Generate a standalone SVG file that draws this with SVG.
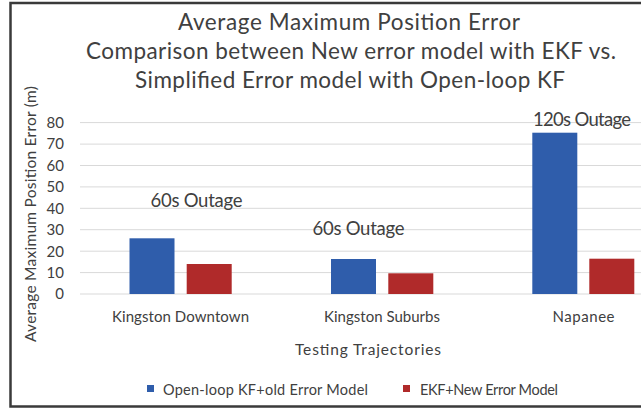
<svg xmlns="http://www.w3.org/2000/svg" width="641" height="408" viewBox="0 0 641 408">
  <style>
    text { font-family: Lato, "Open Sans", "Liberation Sans", sans-serif; fill: #404040; }
    .title { font-size: 22.5px; text-anchor: middle; }
    .tick { font-size: 15px; text-anchor: end; }
    .cat { font-size: 15px; text-anchor: middle; }
    .axis { font-size: 15.5px; text-anchor: middle; }
    .note { font-size: 18.5px; text-anchor: middle; }
    .legend { font-size: 14.5px; }
    .grid { stroke: #d9d9d9; stroke-width: 1; }
    .blue { fill: #2f5dab; }
    .red { fill: #b02a2a; }
  </style>

  <!-- chart frame -->
  <rect x="0" y="0" width="641" height="408" fill="#ffffff"/>
  <path d="M641 3 H10.5 V406.5 H641" fill="none" stroke="#3a3a3a" stroke-width="2.5"/>

  <!-- title -->
  <g id="title">
    <text class="title" x="349" y="30" textLength="342">Average Maximum Position Error</text>
    <text class="title" x="351" y="59" textLength="530">Comparison between New error model with EKF vs.</text>
    <text class="title" x="350" y="88" textLength="430">Simplified Error model with Open-loop KF</text>
  </g>

  <!-- value axis: gridlines and labels -->
  <g id="value-axis">
    <g class="grid">
      <line x1="80" y1="294" x2="641" y2="294"/>
      <line x1="80" y1="272.6" x2="641" y2="272.6"/>
      <line x1="80" y1="251.2" x2="641" y2="251.2"/>
      <line x1="80" y1="229.7" x2="641" y2="229.7"/>
      <line x1="80" y1="208.3" x2="641" y2="208.3"/>
      <line x1="80" y1="186.9" x2="641" y2="186.9"/>
      <line x1="80" y1="165.5" x2="641" y2="165.5"/>
      <line x1="80" y1="144.1" x2="641" y2="144.1"/>
      <line x1="80" y1="122.6" x2="641" y2="122.6"/>
    </g>
    <text class="tick" x="64" y="299.3">0</text>
    <text class="tick" x="64" y="277.9">10</text>
    <text class="tick" x="64" y="256.5">20</text>
    <text class="tick" x="64" y="235">30</text>
    <text class="tick" x="64" y="213.6">40</text>
    <text class="tick" x="64" y="192.2">50</text>
    <text class="tick" x="64" y="170.8">60</text>
    <text class="tick" x="64" y="149.4">70</text>
    <text class="tick" x="64" y="127.9">80</text>
    <text class="axis" transform="translate(35.5 214) rotate(-90)" textLength="256">Average Maximum Position Error (m)</text>
  </g>

  <!-- Kingston Downtown -->
  <g id="kingston-downtown">
    <rect class="blue" x="129.5" y="238.3" width="45" height="55.7"/>
    <rect class="red" x="186.7" y="264" width="45" height="30"/>
    <text class="note" x="196.5" y="207" textLength="92">60s Outage</text>
    <text class="cat" x="180.5" y="322" textLength="137">Kingston Downtown</text>
  </g>

  <!-- Kingston Suburbs -->
  <g id="kingston-suburbs">
    <rect class="blue" x="331" y="259" width="45" height="35"/>
    <rect class="red" x="388.3" y="273.3" width="45" height="20.7"/>
    <text class="note" x="358.5" y="235" textLength="92">60s Outage</text>
    <text class="cat" x="382" y="322" textLength="116">Kingston Suburbs</text>
  </g>

  <!-- Napanee -->
  <g id="napanee">
    <rect class="blue" x="532.3" y="132.7" width="45" height="161.3"/>
    <rect class="red" x="589.3" y="258.7" width="45" height="35.3"/>
    <text class="note" x="582" y="126" textLength="98">120s Outage</text>
    <text class="cat" x="583.5" y="322" textLength="62">Napanee</text>
  </g>

  <!-- category axis title -->
  <g id="category-axis">
    <text class="axis" x="368" y="355" textLength="146">Testing Trajectories</text>
  </g>

  <!-- legend -->
  <g id="legend">
    <rect class="blue" x="147" y="385" width="7" height="7"/>
    <text class="legend" x="163" y="395" textLength="205">Open-loop KF+old Error Model</text>
    <rect class="red" x="403" y="385" width="7" height="7"/>
    <text class="legend" x="420" y="395" textLength="138">EKF+New Error Model</text>
  </g>
</svg>
